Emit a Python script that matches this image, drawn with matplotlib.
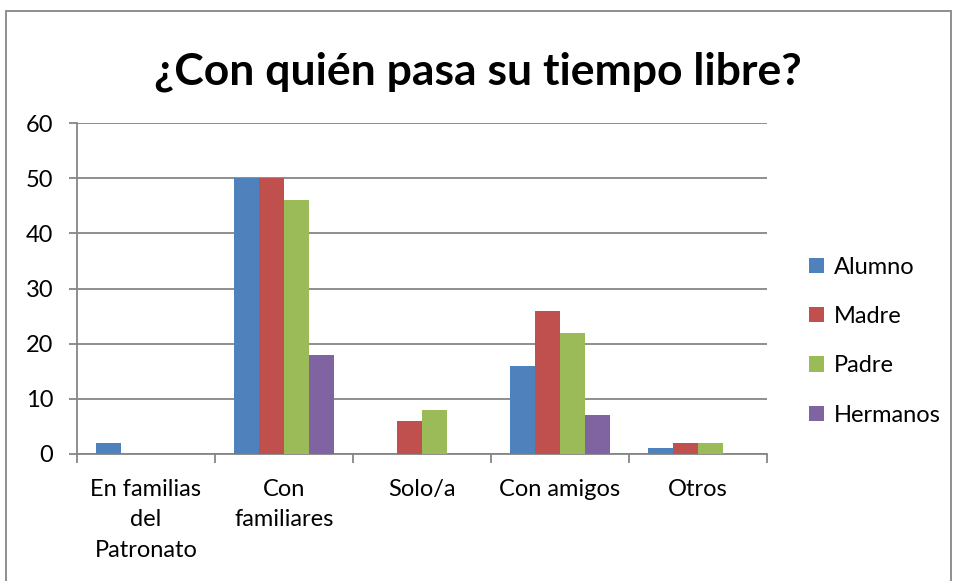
import matplotlib
matplotlib.use("Agg")
import matplotlib.pyplot as plt
import numpy as np
from matplotlib.patches import Rectangle

categories = ["En familias\ndel\nPatronato", "Con\nfamiliares", "Solo/a", "Con amigos", "Otros"]
series_names = ["Alumno", "Madre", "Padre", "Hermanos"]
alumno = [2, 50, 0, 16, 1]
madre = [0, 50, 6, 26, 2]
padre = [0, 46, 8, 22, 2]
hermanos = [0, 18, 0, 7, 0]
colors = ["#4F81BD", "#C0504D", "#9BBB59", "#8064A2"]
title = "¿Con quién pasa su tiempo libre?"

plt.rcParams['font.family'] = ['Lato', 'DejaVu Sans']

fig = plt.figure(figsize=(9.56, 5.81), dpi=100)
L, R, T, B = 77, 767, 123, 454
ax = fig.add_axes([L/956, 1-B/581, (R-L)/956, (B-T)/581])

data = [alumno, madre, padre, hermanos]
n = len(categories)
x = np.arange(n)
w = 1/5.5
for i, (vals, name, c) in enumerate(zip(data, series_names, colors)):
    ax.bar(x + (i - 1.5)*w, vals, width=w, color=c, label=name, zorder=3)

ax.set_xlim(-0.5, n-0.5)
ax.set_ylim(0, 60)
ax.set_yticks(range(0, 61, 10))
ax.yaxis.grid(True, color="#868686", linewidth=1.3, zorder=0)
ax.set_xticks(x)
ax.set_xticklabels(categories, fontsize=17, linespacing=1.55)
ax.set_xticks(np.arange(-0.5, n, 1), minor=True)
ax.tick_params(axis='x', which='major', length=0, pad=18)
ax.tick_params(axis='x', which='minor', length=6.5, color="#868686", width=1.3)
ax.tick_params(axis='y', length=6, color="#868686", width=1.3, labelsize=17, pad=11)
for s in ['top', 'right']:
    ax.spines[s].set_visible(False)
for s in ['left', 'bottom']:
    ax.spines[s].set_color("#868686")
    ax.spines[s].set_linewidth(1.3)

fig.text(0.5, 1-72/581, title, ha='center', va='center', fontsize=32, fontweight='bold')

leg = ax.legend(loc='center left', bbox_to_anchor=((809-L)/(R-L), (B-341)/(B-T)), frameon=False,
                fontsize=17, handlelength=0.62, handleheight=0.62, labelspacing=1.2,
                handletextpad=0.45, borderpad=0, borderaxespad=0)

fig.patches.append(Rectangle((6/956, -0.05), (951-6)/956, 1-11/581+0.05,
                             transform=fig.transFigure, fill=False,
                             edgecolor="#868686", linewidth=1.3))

fig.savefig("out.png", dpi=100)
